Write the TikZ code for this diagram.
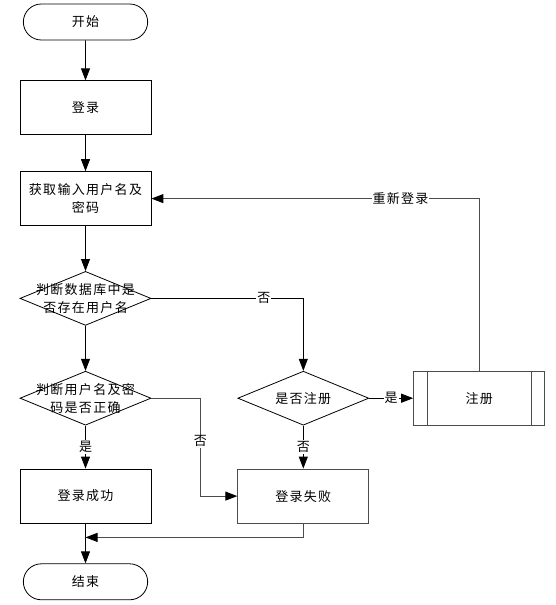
\documentclass[tikz,border=0pt]{standalone}
\usepackage{fontspec}
\newfontfamily\cjk[LetterSpace=10]{Noto Sans CJK SC}
\usetikzlibrary{shapes.geometric,shapes.misc,arrows.meta,positioning}

\begin{document}
\begin{tikzpicture}[
        x=1pt, y=1pt,
        every node/.style={font=\cjk\fontsize{13}{18}\selectfont},
        terminal/.style={rounded rectangle, draw, line width=0.8pt, minimum width=131pt, minimum height=36pt},
        box/.style={rectangle, draw, line width=0.8pt, minimum width=131pt, minimum height=54pt, align=center},
        decision/.style={diamond, draw, line width=0.8pt, minimum width=131pt, minimum height=54pt, inner sep=0pt},
        arrow/.style={-{Triangle[length=12pt,width=9pt,color=black]}, line width=0.8pt},
        tag/.style={fill=white, inner sep=1pt},
        dim/.style={draw=black!70, line width=1pt}
    ]
    \useasboundingbox (0,0) rectangle (556,-605);

    % Main column (LEFT)
    \node[terminal] (start) at (85.5,-22) {开始};
    \node[box, below=40pt of start] (login) {登录};
    \node[box, below=36pt of login] (fetch) {获取输入用户名及\\密码};
    \node[decision, below=45pt of fetch, label={[align=center]center:判断数据库中是\\否存在用户名}] (chk-user) {};
    \node[decision, below=45pt of chk-user, label={[align=center]center:判断用户名及密\\码是否正确}] (chk-pwd) {};
    \node[box, below=43pt of chk-pwd] (success) {登录成功};
    \node[terminal, below=40pt of success] (end) {结束};

    % Register branch (RIGHT) - positioned relative to the left column
    \node[decision, right=86pt of chk-pwd, label=center:是否注册] (chk-reg) {};
    \node[box, below=43pt of chk-reg, dim] (fail) {登录失败};
    \node[box, right=44pt of chk-reg, dim] (reg) {注册};
    \draw[dim] ([xshift=14pt]reg.north west) -- ([xshift=14pt]reg.south west)
        ([xshift=-14pt]reg.north east) -- ([xshift=-14pt]reg.south east);

    % Helper points for the bent connectors
    \coordinate[right=49pt of chk-pwd.east] (pwd-bend);
    \coordinate[below=14pt of success.south] (merge);

    % Connectors
    \draw[arrow] (start) -- (login);
    \draw[arrow] (login) -- (fetch);
    \draw[arrow] (fetch) -- (chk-user);
    \draw[arrow] (chk-user) -- (chk-pwd);
    \draw[arrow] (chk-user.east) -| node[tag, pos=0.37] {否} (chk-reg.north);
    \draw[arrow] (chk-pwd.south) -- node[tag] {是} (success.north);
    \draw[arrow, dim] (chk-pwd.east) -- (pwd-bend) |- node[tag, pos=0.22, text=black] {否} (fail.west);
    \draw[arrow] (chk-reg.south) -- node[tag] {否} (fail.north);
    \draw[arrow] (chk-reg.east) -- node[tag] {是} (reg.west);
    \draw[arrow, dim] (reg.north) |- node[tag, pos=0.62, text=black] {重新登录} (fetch.east);
    \draw[arrow, dim] (fail.south) |- (merge);
    \draw[arrow] (success.south) -- (end.north);

\end{tikzpicture}
\end{document}
